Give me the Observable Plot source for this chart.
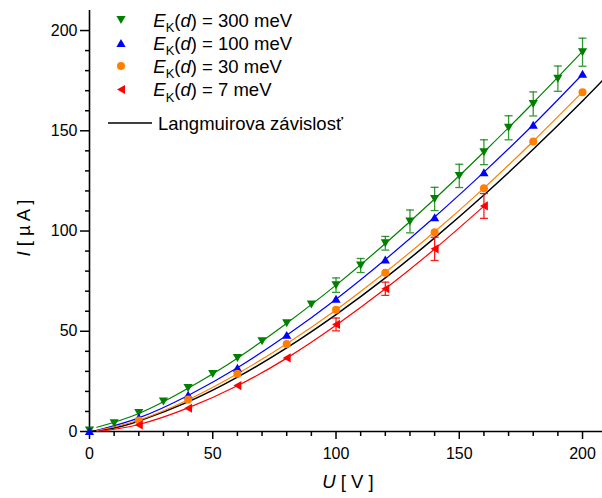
<!DOCTYPE html>
<html>
<head>
<meta charset="utf-8">
<script src="https://cdn.jsdelivr.net/npm/d3@7"></script>
<script src="https://cdn.jsdelivr.net/npm/@observablehq/plot@0.6"></script>
<style>
  html, body { margin: 0; padding: 0; background: #fff; }
  #chart svg { display: block; }
</style>
</head>
<body>
<div id="chart"></div>
<script>
// Measured anode current I [µA] versus voltage U [V] for several electron energies E_K(d)

// E_K(d) = 300 meV
const uGreen = [0, 10, 20, 30, 40, 50, 60, 70, 80, 90, 100, 110, 120, 130, 140, 150, 160, 170, 180, 190, 200];
const iGreen = [0.5, 4.1, 9.3, 15.0, 21.7, 28.7, 36.7, 45.0, 54.0, 63.3, 73.0, 82.8, 93.9, 104.8, 116.0, 127.5, 139.3, 151.5, 163.4, 176.0, 189.2];
const eGreen = [0, 0, 0, 0, 0, 0, 0, 0, 0, 0, 3.6, 3.5, 3.4, 5.7, 5.8, 5.8, 6.2, 6.0, 6.0, 6.3, 7.0];

// E_K(d) = 100 meV
const uBlue = [0, 20, 40, 60, 80, 100, 120, 140, 160, 180, 200];
const iBlue = [0.3, 7.1, 18.3, 31.8, 48.2, 66.2, 85.8, 106.9, 129.3, 153.0, 178.4];

// E_K(d) = 30 meV
const uOrange = [20, 40, 60, 80, 100, 120, 140, 160, 180, 200];
const iOrange = [5.5, 16.0, 28.8, 43.7, 60.7, 79.2, 99.4, 121.3, 144.6, 169.2];

// E_K(d) = 7 meV
const uRed = [20, 40, 60, 80, 100, 120, 140, 160];
const iRed = [3.3, 11.6, 22.9, 36.7, 53.4, 71.2, 91.1, 112.5];
const eRed = [0, 0, 0, 0, 3.2, 3.3, 5.8, 6.2];

// fitted curves for each series
const fitUGreen = [3, 20, 40, 60, 80, 100, 120, 140, 160, 180, 200];
const fitIGreen = [2.1, 9.0, 21.6, 36.6, 54.0, 73.0, 93.8, 116.0, 139.4, 164.0, 189.6];
const fitUBlue = [3, 20, 40, 60, 80, 100, 120, 140, 160, 180, 200];
const fitIBlue = [0.6, 6.8, 18.0, 31.8, 48.0, 66.0, 85.8, 107.0, 129.4, 153.0, 178.2];
const fitUOrange = [3, 20, 40, 60, 80, 100, 120, 140, 160, 180, 200];
const fitIOrange = [0.5, 5.6, 15.8, 28.8, 43.8, 60.6, 79.4, 99.6, 121.4, 144.8, 169.4];
const fitURed = [3, 20, 40, 60, 80, 100, 120, 140, 160];
const fitIRed = [0.0, 3.5, 11.8, 22.8, 36.6, 53.0, 71.2, 91.0, 112.4];

// Langmuir (Child–Langmuir) law
const langU = [0, 10, 20, 40, 60, 80, 100, 120, 140, 160, 180, 200, 208.1];
const langI = [0, 1.8, 5.2, 14.8, 27.1, 41.7, 58.3, 76.6, 96.6, 118.0, 140.8, 164.9, 175.1];

// axis ticks
const xMajor = [0, 50, 100, 150, 200];
const xMinor = [10, 20, 30, 40, 60, 70, 80, 90, 110, 120, 130, 140, 160, 170, 180, 190];
const yMajor = [0, 50, 100, 150, 200];
const yMinor = [10, 20, 30, 40, 60, 70, 80, 90, 110, 120, 130, 140, 160, 170, 180, 190];

const legendLabels = ["300 meV", "100 meV", "30 meV", "7 meV"];
const colors = ["#008000", "#0000ff", "#ff8000", "#ff0000"];

const zip = (us, is, es) => us.map((u, k) => ({u, i: is[k], e: es ? es[k] : 0}));
const green = zip(uGreen, iGreen, eGreen);
const blue = zip(uBlue, iBlue);
const orange = zip(uOrange, iOrange);
const red = zip(uRed, iRed, eRed);
const fitGreen = zip(fitUGreen, fitIGreen);
const fitBlue = zip(fitUBlue, fitIBlue);
const fitOrange = zip(fitUOrange, fitIOrange);
const fitRed = zip(fitURed, fitIRed);
const lang = zip(langU, langI);

// marker shapes (bounding box centred on the data point)
const tri = (pts) => ({
  draw(ctx, size) {
    const r = Math.sqrt(size / Math.PI), h = r * 1.73;
    const p = pts(r, h);
    ctx.moveTo(p[0][0], p[0][1]);
    ctx.lineTo(p[1][0], p[1][1]);
    ctx.lineTo(p[2][0], p[2][1]);
    ctx.closePath();
  }
});
const triDown = tri((r, h) => [[-r, -h / 2], [r, -h / 2], [0, h / 2]]);
const triUp = tri((r, h) => [[-r, h / 2], [r, h / 2], [0, -h / 2]]);
const triLeft = tri((r, h) => [[h / 2, -r], [h / 2, r], [-h / 2, 0]]);
const capBar = {
  draw(ctx, size) {
    const r = Math.sqrt(size / Math.PI);
    ctx.moveTo(-r, 0);
    ctx.lineTo(r, 0);
  }
};

const errorMarks = (data, color, op) => {
  const d = data.filter(p => p.e > 0);
  return [
    Plot.ruleX(d, {x: "u", y1: p => p.i - p.e, y2: p => p.i + p.e, stroke: color, strokeWidth: 1.3, strokeOpacity: op}),
    Plot.dot(d, {x: "u", y: p => p.i - p.e, symbol: capBar, r: 4, stroke: color, fill: "none", strokeWidth: 1.3, strokeOpacity: op}),
    Plot.dot(d, {x: "u", y: p => p.i + p.e, symbol: capBar, r: 4, stroke: color, fill: "none", strokeWidth: 1.3, strokeOpacity: op})
  ];
};

const chart = Plot.plot({
  width: 602,
  height: 498,
  marginLeft: 89,
  marginRight: 0,
  marginTop: 10,
  marginBottom: 67,
  x: {domain: [0, 208.1]},
  y: {domain: [0, 210]},
  style: {fontFamily: "'Liberation Sans', Arial, sans-serif", fontSize: "16px", color: "#000", background: "#fff"},
  marks: [
    // axes
    Plot.axisX({ticks: xMajor, tickSize: 8, tickPadding: 8.5, strokeWidth: 1.5, label: null, fontSize: 16}),
    Plot.axisX({ticks: xMinor, tickSize: 5, strokeWidth: 1.5, text: null, label: null}),
    Plot.axisY({ticks: yMajor, tickSize: 9, tickPadding: 3, strokeWidth: 1.5, label: null, fontSize: 16}),
    Plot.axisY({ticks: yMinor, tickSize: 4, strokeWidth: 1.5, text: null, label: null}),
    Plot.ruleY([0], {stroke: "#000", strokeWidth: 1.6}),
    Plot.ruleX([0], {stroke: "#000", strokeWidth: 1.6}),

    // fitted curves and the Langmuir law
    Plot.line(lang, {x: "u", y: "i", stroke: "#000", strokeWidth: 1.5, curve: "natural"}),
    Plot.line(fitGreen, {x: "u", y: "i", stroke: colors[0], strokeWidth: 1.2, curve: "natural"}),
    Plot.line(fitBlue, {x: "u", y: "i", stroke: colors[1], strokeWidth: 1.2, curve: "natural"}),
    Plot.line(fitOrange, {x: "u", y: "i", stroke: colors[2], strokeWidth: 1.2, curve: "natural"}),
    Plot.line(fitRed, {x: "u", y: "i", stroke: colors[3], strokeWidth: 1.2, curve: "natural"}),

    // error bars
    ...errorMarks(green, colors[0], 0.8),
    ...errorMarks(red, colors[3], 0.9),

    // measured points
    Plot.dot(green, {x: "u", y: "i", symbol: triDown, r: 4.6, fill: colors[0], stroke: "none"}),
    Plot.dot(blue, {x: "u", y: "i", symbol: triUp, r: 4.6, fill: colors[1], stroke: "none"}),
    Plot.dot(orange, {x: "u", y: "i", r: 4, fill: colors[2], stroke: "none"}),
    Plot.dot(red, {x: "u", y: "i", symbol: triLeft, r: 4.6, fill: colors[3], stroke: "none"})
  ]
});

document.getElementById("chart").appendChild(chart);

// axis titles and legend
const svg = d3.select(chart);
const font = "'Liberation Sans', Arial, sans-serif";

const xt = svg.append("text")
  .attr("x", 348).attr("y", 487.5)
  .attr("text-anchor", "middle")
  .attr("font-family", font).attr("font-size", 18.5).attr("fill", "#000");
xt.append("tspan").attr("font-style", "italic").text("U");
xt.append("tspan").text(" [ V ]");

const yt = svg.append("text")
  .attr("transform", "translate(30,228) rotate(-90)")
  .attr("text-anchor", "middle")
  .attr("font-family", font).attr("font-size", 18.5).attr("fill", "#000");
yt.append("tspan").attr("font-style", "italic").text("I");
yt.append("tspan").text(" [ µ A ]");

const legendSymbols = [triDown, triUp, d3.symbolCircle, triLeft];
const legendSizes = [Math.PI * 4.6 * 4.6, Math.PI * 4.6 * 4.6, Math.PI * 16, Math.PI * 4.6 * 4.6];
const rowY = [20, 43, 66, 89.5];
const lg = svg.append("g")
  .attr("font-family", font).attr("font-size", 18.5).attr("fill", "#000")
  .attr("text-anchor", "start");
legendLabels.forEach((lab, k) => {
  lg.append("path")
    .attr("transform", `translate(121,${rowY[k]})`)
    .attr("d", d3.symbol(legendSymbols[k], legendSizes[k])())
    .attr("fill", colors[k]);
  const t = lg.append("text").attr("x", 153.3).attr("y", rowY[k] + 6.7);
  t.append("tspan").attr("font-style", "italic").text("E");
  t.append("tspan").attr("dy", 5.7).attr("font-size", 13).text("K");
  t.append("tspan").attr("dy", -5.7).text("(");
  t.append("tspan").attr("font-style", "italic").text("d");
  t.append("tspan").text(") = " + lab);
});
lg.append("line")
  .attr("x1", 108).attr("x2", 152).attr("y1", 123).attr("y2", 123)
  .attr("stroke", "#000").attr("stroke-width", 1.5);
lg.append("text").attr("x", 158).attr("y", 129.7).text("Langmuirova závislosť");
</script>
</body>
</html>
